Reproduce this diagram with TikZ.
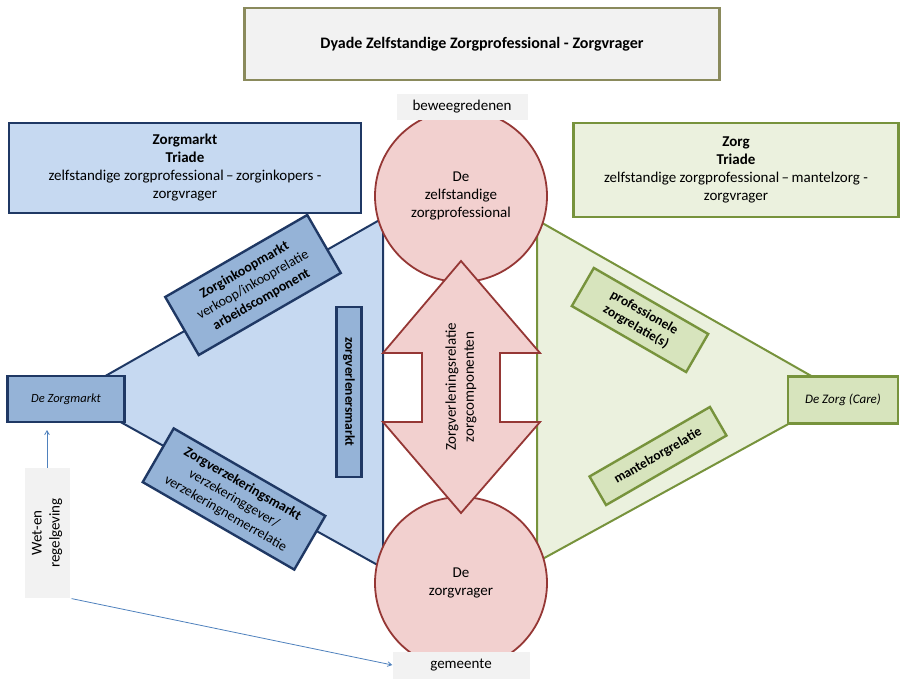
\documentclass[tikz,border=0pt]{standalone}
\usepackage{fontspec}
\setmainfont{Carlito}
\usepackage{xcolor}
\definecolor{navy}{HTML}{1F3864}
\definecolor{lblue}{HTML}{C6D9F1}
\definecolor{mblue}{HTML}{95B3D7}
\definecolor{lgreen}{HTML}{EBF1DE}
\definecolor{mgreen}{HTML}{D7E4BD}
\definecolor{dgreen}{HTML}{77933C}
\definecolor{lpink}{HTML}{F2D0CF}
\definecolor{dred}{HTML}{953735}
\definecolor{lgray}{HTML}{F2F2F2}
\definecolor{olive}{HTML}{8A8A5C}
\definecolor{arrowblue}{HTML}{4F81BD}
\usetikzlibrary{positioning, arrows}

\begin{document}
\begin{tikzpicture}
[x=1pt, y=-1pt,
 >=angle 60,
 font=\fontsize{15}{18}\selectfont,
 bluebox/.style={draw=navy, line width=2.4pt, fill=mblue, align=center, inner sep=1pt},
 greenbox/.style={draw=dgreen, line width=2.4pt, fill=mgreen, align=center, inner sep=1pt},
 triade/.style={line width=2.6pt, align=center},
 tag/.style={fill=lgray, align=center, inner sep=1pt},
 cirkel/.style={circle, draw=dred, line width=1.8pt, fill=lpink, minimum size=172pt, align=center},
 schuin/.style={font=\fontsize{14}{17}\selectfont},
 vet/.style={font=\fontsize{13.5}{16.5}\selectfont\bfseries},
]
\useasboundingbox (0,0) rectangle (903,678);

% driehoeken
\draw[navy, line width=2pt, fill=lblue] (72,395) -- (383,218) -- (383,568) -- cycle;
\draw[dgreen, line width=2pt, fill=lgreen] (843,394) -- (537,220) -- (537,562) -- cycle;

% dyade
\node[cirkel] (prof) at (461,196) {De\\zelfstandige\\zorgprofessional};
\node[cirkel] (vrager) at (461,583) {De\\zorgvrager};
\draw[dred, line width=1.8pt, fill=lpink]
  (461,261) -- (540,353) -- (500,353) -- (500,422) -- (540,422) -- (461,513)
  -- (383,422) -- (422,422) -- (422,353) -- (383,353) -- cycle;
\node[rotate=90, align=center] (relatie) at (461,387) {Zorgverleningsrelatie\\zorgcomponenten};

\node[triade, draw=olive, fill=lgray, minimum width=475pt, minimum height=72pt,
  font=\fontsize{16}{19}\selectfont\bfseries]
  (dyade) at (482,44) {Dyade Zelfstandige Zorgprofessional - Zorgvrager};
\node[tag, minimum width=131pt, minimum height=26pt] (beweeg) at (462,107) {beweegredenen};
\node[tag, minimum width=137pt, minimum height=27pt] (gemeente) at (461,665) {gemeente};

% zorgmarkt
\node[triade, draw=navy, fill=lblue, minimum width=352pt, minimum height=90pt]
  (zorgmarkt) at (185,168) {\textbf{Zorgmarkt}\\\textbf{Triade}\\zelfstandige zorgprofessional\,--\,zorginkopers -\\zorgvrager};
\node[bluebox, minimum width=117pt, minimum height=46pt, font=\fontsize{12.5}{15}\selectfont\itshape]
  (dezorgmarkt) at (66,399) {De Zorgmarkt};
\node[bluebox, schuin, rotate=30, minimum width=164pt, minimum height=67pt] (inkoop) at (253,285)
  {\textbf{Zorginkoopmarkt}\\verkoop/inkooprelatie\\\textbf{arbeidscomponent}};
\node[bluebox, vet, rotate=-90, minimum width=170pt, minimum height=25pt] (verleners) at (349,392)
  {zorgverlenersmarkt};
\node[bluebox, schuin, rotate=-30, minimum width=175pt, minimum height=62pt] (verzekering) at (234,499)
  {\textbf{Zorgverzekeringsmarkt}\\verzekeringgever/\\verzekeringnemerrelatie};

% zorg
\node[triade, draw=dgreen, fill=lgreen, minimum width=325pt, minimum height=94pt]
  (zorg) at (736,170) {\textbf{Zorg}\\\textbf{Triade}\\zelfstandige zorgprofessional\,--\,mantelzorg -\\zorgvrager};
\node[greenbox, minimum width=110pt, minimum height=47pt, font=\fontsize{13}{16}\selectfont\itshape]
  (dezorg) at (843,400) {De Zorg (Care)};
\node[greenbox, vet, rotate=-30, minimum width=132pt, minimum height=44pt] (professioneel) at (640,320)
  {professionele\\zorgrelatie(s)};
\node[greenbox, vet, rotate=30, minimum width=139pt, minimum height=33pt] (mantelzorg) at (658,456)
  {mantelzorgrelatie};

% wetgeving
\node[tag, rotate=90, minimum width=130pt, minimum height=45pt, font=\fontsize{15}{18}\selectfont]
  (wet) at (47,533) {Wet-en\\regelgeving};
\coordinate (wettop) at (47,430);
\draw[->, arrowblue, line width=0.8pt] (wet.east) -- (wettop);
\draw[->, arrowblue, line width=0.8pt, shorten <=2pt] (wet.south west) -- (gemeente.west);
\end{tikzpicture}
\end{document}
